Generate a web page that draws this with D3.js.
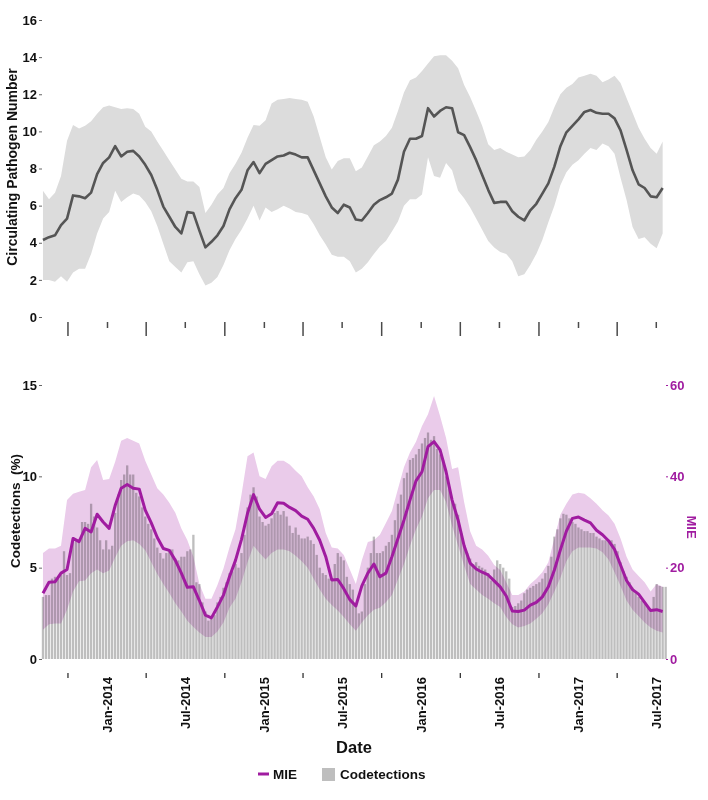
<!DOCTYPE html>
<html><head><meta charset="utf-8">
<script src="https://cdn.jsdelivr.net/npm/d3@7"></script>
<style>
html,body{margin:0;padding:0;background:#fff;}
svg{display:block;font-family:"Liberation Sans",Arial,sans-serif;font-weight:bold;}
</style></head><body>
<svg id="c" width="708" height="800"></svg>
<script>
// ---------------- DATA ----------------
const firstWeek = "2013-08-05";           // week 0 (weekly series), biweekly series use every 2nd week
// Weekly codetections (%)
const codetections = [
 3.4,3.5,3.5,4.4,4.5,4.4,4.6,5.9,4.6,4.7,
 6.4,6.5,6.4,7.5,7.5,7.4,8.5,7.8,7.2,6.5,
 6.0,6.5,6.0,6.2,8.0,9.0,9.8,10.1,10.6,10.1,
 10.1,9.1,8.9,8.3,7.8,7.4,7.1,6.6,6.1,5.8,
 5.5,5.8,6.0,6.0,5.5,5.4,5.6,5.6,5.9,6.0,
 6.8,4.2,4.1,3.1,2.6,2.1,2.2,2.4,3.1,3.4,
 3.9,4.2,4.7,4.8,5.2,5.0,5.8,6.8,8.3,9.0,
 9.4,8.9,7.8,7.5,7.3,7.4,7.7,8.0,8.1,7.9,
 8.1,7.8,7.3,6.9,7.2,6.8,6.6,6.6,6.7,6.5,
 6.3,5.7,5.0,4.7,4.6,4.4,4.4,5.2,5.8,5.6,
 5.4,4.5,4.1,3.8,3.0,2.5,2.6,4.1,5.0,5.8,
 6.7,5.8,5.8,5.9,6.2,6.4,6.8,7.6,8.5,9.0,
 9.9,10.2,10.9,11.0,11.2,11.5,11.8,12.1,12.4,12.0,
 12.2,11.5,11.2,10.9,10.0,9.3,8.6,8.5,7.9,6.9,
 6.2,5.8,5.5,5.2,5.3,5.1,5.0,4.9,4.7,4.3,
 4.9,5.4,5.2,5.0,4.8,4.4,2.85,2.9,3.05,3.2,
 3.6,3.8,3.9,4.0,4.1,4.2,4.4,4.7,5.1,5.6,
 6.7,7.1,7.7,7.95,7.9,7.7,7.5,7.4,7.2,7.1,
 7.0,7.0,6.9,6.9,6.7,6.6,6.5,6.5,6.5,6.5,
 6.3,5.9,5.3,4.8,4.5,4.2,3.9,3.6,3.4,3.2,
 3.05,2.9,2.6,3.4,4.1,4.0,3.95,3.95
];
// Biweekly circulating pathogen number
const pathogenMean = [
 4.15,4.3,4.4,4.95,5.3,6.55,6.5,6.4,6.7,7.7,
 8.3,8.6,9.2,8.65,8.9,8.95,8.65,8.2,7.65,6.85,
 5.95,5.4,4.85,4.5,5.65,5.6,4.65,3.75,4.05,4.4,
 4.9,5.8,6.4,6.85,7.9,8.35,7.75,8.25,8.45,8.65,
 8.7,8.85,8.75,8.6,8.6,7.9,7.2,6.5,5.9,5.6,
 6.05,5.9,5.25,5.2,5.6,6.05,6.3,6.45,6.65,7.4,
 8.9,9.6,9.6,9.75,11.25,10.8,11.1,11.3,11.25,9.95,
 9.8,9.15,8.45,7.65,6.85,6.15,6.2,6.2,5.7,5.4,
 5.2,5.75,6.1,6.65,7.2,8.1,9.2,9.95,10.3,10.65,
 11.05,11.15,11.0,10.95,10.95,10.7,10.05,9.0,7.9,7.15,
 6.95,6.5,6.45,6.95
];
const pathogenUpper = [
 6.8,6.35,6.7,7.6,9.5,10.35,10.15,10.3,10.55,10.95,
 11.3,11.4,11.3,11.2,11.25,11.2,10.95,10.25,10.0,9.45,
 8.95,8.45,7.95,7.45,7.3,7.3,7.0,5.6,6.05,6.6,
 6.95,7.75,8.25,8.85,9.65,10.35,10.3,10.6,11.5,11.7,
 11.75,11.8,11.75,11.7,11.6,10.8,9.7,8.6,7.95,8.4,
 8.55,8.55,7.85,8.05,8.65,9.25,9.45,9.75,10.2,11.1,
 12.1,12.75,12.9,13.25,13.65,14.05,14.1,14.1,13.8,13.4,
 12.5,11.85,11.1,10.3,9.3,9.0,9.1,8.9,8.75,8.6,
 8.65,9.0,9.55,10.0,10.5,11.3,12.0,12.35,12.55,12.9,
 13.0,13.1,13.0,12.65,12.8,13.0,12.6,11.8,11.0,10.2,
 9.6,9.1,8.8,9.45
];
const pathogenLower = [
 2.0,2.0,1.9,2.2,1.9,2.4,2.6,2.6,3.4,4.5,
 5.3,5.65,6.8,6.2,6.45,6.65,6.55,6.2,5.7,4.9,
 3.95,3.0,2.7,2.4,2.95,3.0,2.3,1.7,1.85,2.15,
 2.8,3.6,4.2,4.7,5.3,6.0,5.2,5.9,5.65,5.8,
 6.0,5.85,5.65,5.6,5.5,5.0,4.4,3.9,3.35,3.25,
 3.25,3.0,2.4,2.6,2.95,3.4,3.8,4.1,4.6,5.15,
 6.0,6.35,6.35,6.6,8.6,7.6,7.5,8.3,7.9,6.8,
 6.4,5.9,5.3,4.7,4.1,3.75,3.5,3.4,3.0,2.2,
 2.3,2.8,3.4,4.15,5.1,6.0,7.1,7.8,8.2,8.45,
 8.8,9.1,9.0,9.35,9.2,8.8,7.5,6.3,4.85,4.2,
 4.3,3.95,3.7,4.5
];
// Biweekly MIE (right axis units)
const mieMean = [
 14.4,16.8,16.9,18.8,19.6,26.4,25.7,28.6,27.8,31.7,
 30.0,28.6,33.6,37.4,38.2,37.4,37.2,32.6,29.8,26.6,
 24.2,23.8,21.6,18.8,15.7,15.8,12.8,9.6,9.0,11.4,
 14.0,18.0,21.6,26.2,31.9,36.0,32.8,31.0,31.8,34.2,
 34.1,33.2,32.5,31.3,30.6,28.6,26.0,22.4,17.3,17.4,
 15.4,13.0,11.6,16.0,18.8,20.8,18.0,18.8,22.4,26.4,
 30.4,34.8,39.0,41.0,46.5,47.6,45.8,41.0,34.8,30.4,
 24.8,21.0,19.7,19.0,18.4,17.1,15.8,13.8,10.5,10.4,
 10.7,11.8,12.4,13.6,15.8,19.5,23.9,28.0,30.8,31.1,
 30.4,29.8,28.2,27.2,25.9,24.0,20.6,17.2,15.2,14.2,
 12.4,10.6,10.8,10.4
];
const mieUpper = [
 23.2,24.2,24.2,24.8,34.8,36.2,36.6,37.0,42.0,43.6,
 39.2,39.4,43.2,47.8,48.4,47.8,47.2,43.4,40.4,37.4,
 36.0,34.2,32.0,28.6,26.0,22.4,16.4,13.2,13.2,16.2,
 19.8,24.4,28.4,36.0,44.4,45.2,40.0,39.4,42.2,43.4,
 43.4,42.6,41.2,40.0,37.6,35.6,32.8,27.6,24.4,24.2,
 22.8,19.6,16.4,21.6,25.6,26.0,27.2,29.8,32.4,37.2,
 42.0,45.2,47.6,51.0,53.6,57.6,53.2,48.4,41.6,42.0,
 34.4,28.0,24.8,24.0,22.6,20.6,19.5,16.8,14.0,14.0,
 14.8,16.4,17.6,19.0,21.2,26.4,31.6,34.0,36.0,36.4,
 36.2,35.2,34.0,32.6,31.4,29.6,26.4,22.4,19.6,18.2,
 16.8,14.8,16.4,15.8
];
const mieLower = [
 6.4,7.6,7.8,7.8,10.8,14.8,17.0,17.2,18.8,19.6,
 18.8,19.4,22.2,24.8,25.8,26.0,25.2,23.8,21.2,18.6,
 16.4,14.4,12.2,10.4,8.4,7.0,5.8,4.8,4.8,6.0,
 8.0,11.2,13.2,16.8,21.2,24.8,23.2,21.8,23.2,24.0,
 24.0,23.6,22.6,21.4,20.0,17.6,15.2,13.2,11.8,10.6,
 9.2,7.6,6.2,8.0,9.6,10.8,11.2,12.4,14.0,17.4,
 20.8,24.8,28.4,31.2,35.2,37.0,37.0,34.4,29.2,24.8,
 20.4,16.4,15.2,14.0,13.2,12.2,11.4,9.2,7.6,6.9,
 7.2,7.8,8.8,10.0,12.0,14.8,17.8,21.4,23.6,24.4,
 24.4,24.4,24.2,23.4,21.8,19.0,16.0,12.8,10.8,9.4,
 8.0,6.9,6.2,5.8
];
const xLabelDates = ["2014-01-01","2014-07-01","2015-01-01","2015-07-01","2016-01-01","2016-07-01","2017-01-01","2017-07-01"];
const xLabelText  = ["Jan-2014","Jul-2014","Jan-2015","Jul-2015","Jan-2016","Jul-2016","Jan-2017","Jul-2017"];
const xMinorDates = ["2013-10-01","2014-04-01","2014-10-01","2015-04-01","2015-10-01","2016-04-01","2016-10-01","2017-04-01"];
const topYTicks = [0,2,4,6,8,10,12,14,16];
const bottomYTicks = [0,5,10,15];
const mieTicks = [0,20,40,60];

// ---------------- CHART ----------------
const parse = d3.timeParse("%Y-%m-%d");
const t0 = parse(firstWeek);
const weekDate = i => d3.timeDay.offset(t0, 7 * i);

const svg = d3.select("#c");
const x = d3.scaleTime().domain([parse("2014-01-01"), parse("2017-01-01")]).range([107, 578]);
const yTop = d3.scaleLinear().domain([0, 16]).range([317, 20]);
const yBot = d3.scaleLinear().domain([0, 15]).range([659, 385]);
const yMie = d3.scaleLinear().domain([0, 60]).range([659, 385]);

const purple = "#a01ca0";
const tickCol = "#666";

// ---- top panel
const topRows = pathogenMean.map((m, j) => ({d: weekDate(2 * j), m, lo: pathogenLower[j], hi: pathogenUpper[j]}));
svg.append("path").datum(topRows)
  .attr("fill", "#dcdcdc")
  .attr("d", d3.area().x(r => x(r.d)).y0(r => yTop(r.lo)).y1(r => yTop(r.hi)));
svg.append("path").datum(topRows)
  .attr("fill", "none").attr("stroke", "#555").attr("stroke-width", 2.6).attr("stroke-linejoin", "round")
  .attr("d", d3.line().x(r => x(r.d)).y(r => yTop(r.m)));

function styleAxis(g, col) {
  g.select(".domain").remove();
  g.selectAll(".tick line").attr("stroke", col || tickCol);
  g.selectAll(".tick text").attr("font-family", "Liberation Sans, Arial, sans-serif")
    .attr("font-weight", "bold").attr("font-size", 13).attr("fill", "#111");
}
svg.append("g").attr("transform", "translate(42,0)")
  .call(d3.axisLeft(yTop).tickValues(topYTicks).tickSize(3).tickPadding(2))
  .call(g => styleAxis(g));

// tick row under top panel
const allQuarter = xMinorDates.concat(xLabelDates).map(parse).sort((a, b) => a - b);
svg.append("g").attr("transform", "translate(0,322)")
  .call(d3.axisBottom(x).tickValues(xMinorDates.map(parse)).tickSize(14).tickFormat(""))
  .call(g => { g.select(".domain").remove(); g.selectAll(".tick line").attr("stroke", "#4a4a4a").attr("stroke-width", 1.5); });
svg.append("g").attr("transform", "translate(0,322)")
  .call(d3.axisBottom(x).tickValues(xLabelDates.map(parse)).tickSize(6).tickFormat(""))
  .call(g => { g.select(".domain").remove(); g.selectAll(".tick line").attr("stroke", "#4a4a4a").attr("stroke-width", 1.5); });

svg.append("text").attr("transform", "translate(17,167) rotate(-90)")
  .attr("text-anchor", "middle").attr("font-size", 14).attr("fill", "#111")
  .text("Circulating Pathogen Number");

// ---- bottom panel
const step = x(weekDate(1)) - x(weekDate(0));
svg.append("g").selectAll("rect").data(codetections).join("rect")
  .attr("x", (v, i) => x(weekDate(i)) - step / 2 + 0.35)
  .attr("width", step - 0.7)
  .attr("y", v => yBot(v))
  .attr("height", v => yBot(0) - yBot(v))
  .attr("fill", "#bebebe");

const mieRows = mieMean.map((m, j) => ({d: weekDate(2 * j), m, lo: mieLower[j], hi: mieUpper[j]}));
svg.append("path").datum(mieRows)
  .attr("fill", "#eacbea").style("mix-blend-mode", "multiply")
  .attr("d", d3.area().x(r => x(r.d)).y0(r => yMie(r.lo)).y1(r => yMie(r.hi)));
svg.append("path").datum(mieRows)
  .attr("fill", "none").attr("stroke", purple).attr("stroke-width", 3).attr("stroke-linejoin", "round")
  .attr("d", d3.line().x(r => x(r.d)).y(r => yMie(r.m)));

svg.append("g").attr("transform", "translate(42,0)")
  .call(d3.axisLeft(yBot).tickValues(bottomYTicks).tickSize(3).tickPadding(2))
  .call(g => styleAxis(g));
svg.append("g").attr("transform", "translate(666,0)")
  .call(d3.axisRight(yMie).tickValues(mieTicks).tickSize(2).tickPadding(2))
  .call(g => { styleAxis(g, purple); g.selectAll(".tick text").attr("fill", purple); });

// x axis: minor ticks + rotated labels
svg.append("g").attr("transform", "translate(0,673)")
  .call(d3.axisBottom(x).tickValues(xMinorDates.map(parse)).tickSize(5).tickFormat(""))
  .call(g => { g.select(".domain").remove(); g.selectAll(".tick line").attr("stroke", "#333").attr("stroke-width", 1.3); });
svg.append("g").attr("transform", "translate(0,677)")
  .call(d3.axisBottom(x).tickValues(xLabelDates.map(parse)).tickSize(0).tickFormat((d, i) => xLabelText[i]))
  .call(g => {
    styleAxis(g);
    g.selectAll(".tick text").attr("transform", "rotate(-90)").attr("text-anchor", "end")
      .attr("x", 0).attr("y", 0).attr("dy", "0.36em");
  });

svg.append("text").attr("transform", "translate(20,511) rotate(-90)")
  .attr("text-anchor", "middle").attr("font-size", 13.5).attr("fill", "#111")
  .style("white-space", "pre").text("Codetections  (%)");
svg.append("text").attr("transform", "translate(687,527) rotate(90)")
  .attr("text-anchor", "middle").attr("font-size", 13).attr("fill", purple)
  .text("MIE");
svg.append("text").attr("x", 354).attr("y", 753).attr("text-anchor", "middle")
  .attr("font-size", 16.5).attr("fill", "#111").text("Date");

// legend
const leg = svg.append("g");
leg.append("line").attr("x1", 258).attr("x2", 269).attr("y1", 774).attr("y2", 774)
  .attr("stroke", purple).attr("stroke-width", 3);
leg.append("text").attr("x", 273).attr("y", 779).attr("font-size", 13.5).attr("fill", "#111").text("MIE");
leg.append("rect").attr("x", 322).attr("y", 768).attr("width", 13).attr("height", 13).attr("fill", "#bebebe");
leg.append("text").attr("x", 340).attr("y", 779).attr("font-size", 13.5).attr("fill", "#111").text("Codetections");
</script>
</body></html>
